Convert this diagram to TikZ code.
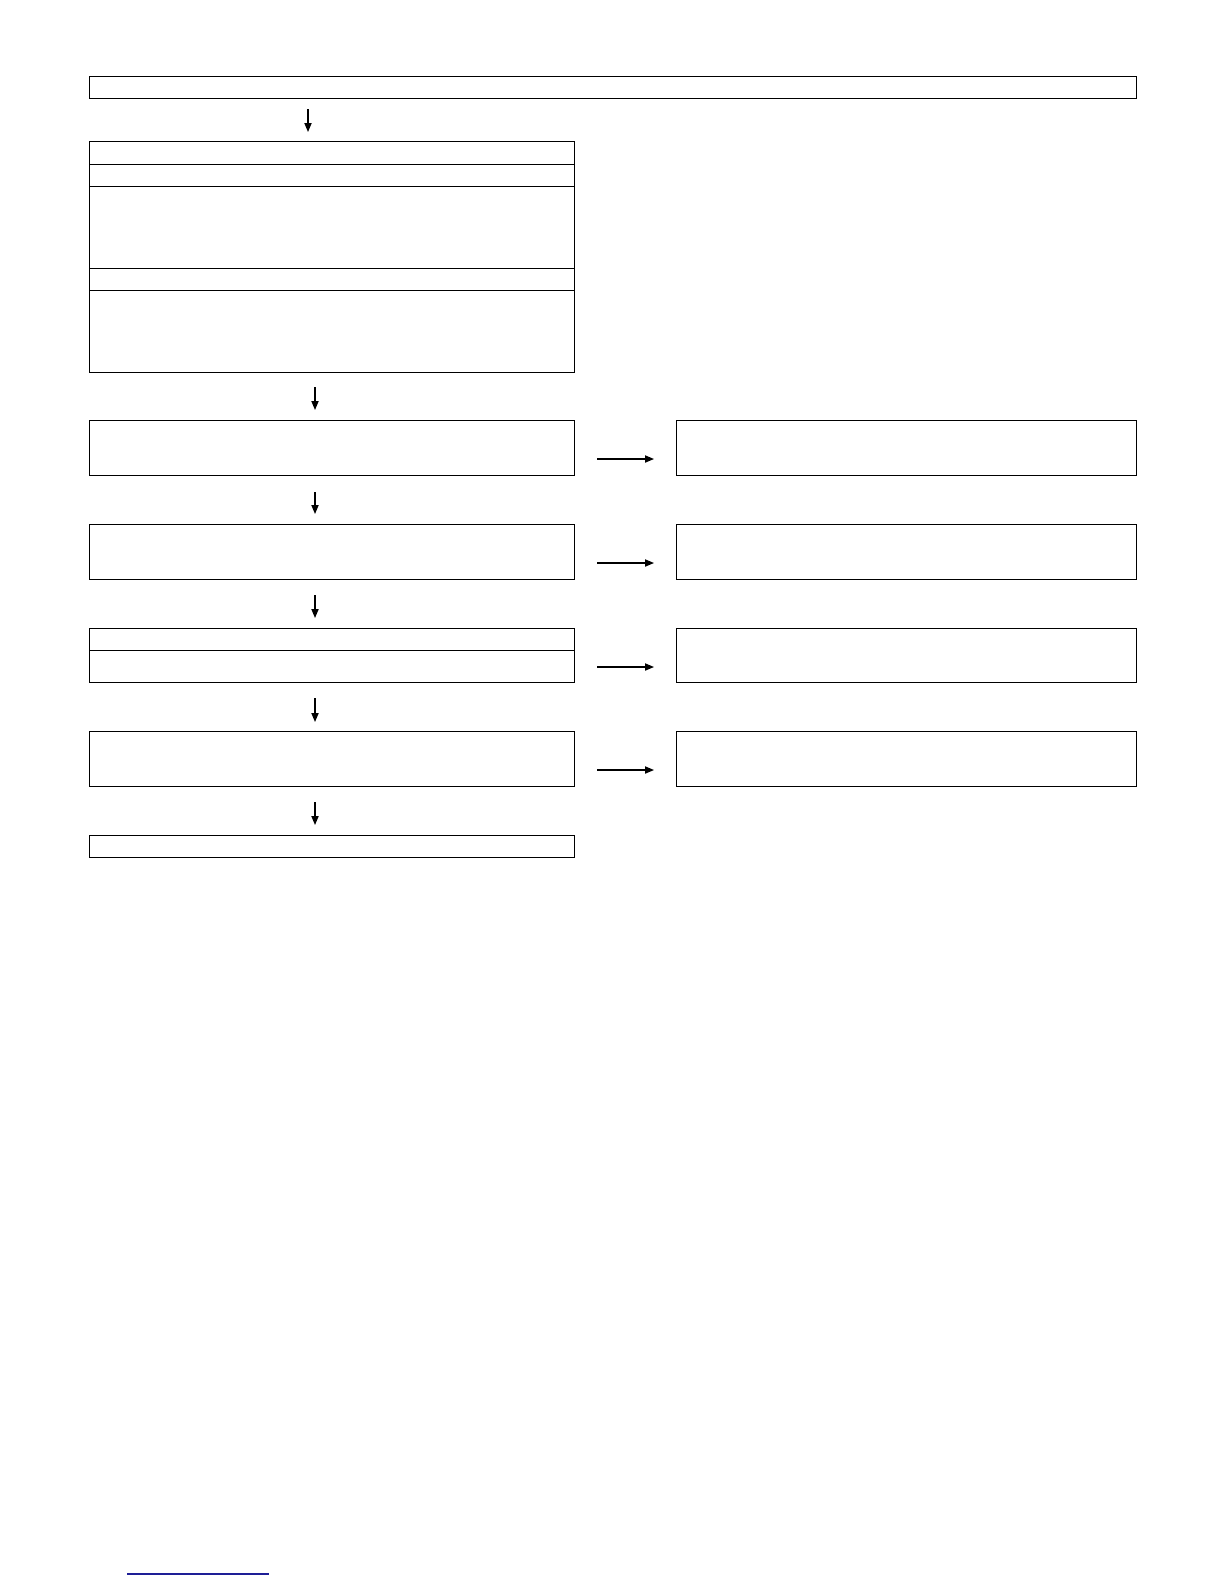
\documentclass[tikz,border=0pt]{standalone}
\usetikzlibrary{arrows.meta}
\definecolor{linkblue}{RGB}{30,30,150}
\begin{document}
\begin{tikzpicture}[x=0.5bp,y=-0.5bp,
  box/.style={draw=black,line width=0.7bp,inner sep=0pt,anchor=north west,minimum width=#1},
  lbox/.style={box=242.5bp},
  rbox/.style={box=230bp,minimum height=27.5bp},
  arr/.style={draw=black,line width=0.6bp,-{Triangle[length=4.5bp,width=3.6bp]}}]
\useasboundingbox (0,0) rectangle (1224,1584);
% top wide box
\node[box=523.5bp,minimum height=11bp] (top) at (89,76) {};
% grouped box
\node[lbox,minimum height=11.5bp] (g1) at (89,141) {};
\node[lbox,minimum height=11bp] (g2) at (89,164) {};
\node[lbox,minimum height=41bp] (g3) at (89,186) {};
\node[lbox,minimum height=11bp] (g4) at (89,268) {};
\node[lbox,minimum height=41bp] (g5) at (89,290) {};
% rows
\node[lbox,minimum height=27.5bp] (l1) at (89,420) {};
\node[rbox] (r1) at (676,420) {};
\node[lbox,minimum height=27.5bp] (l2) at (89,524) {};
\node[rbox] (r2) at (676,524) {};
\node[lbox,minimum height=11bp] (l3a) at (89,628) {};
\node[lbox,minimum height=16bp] (l3b) at (89,650) {};
\node[rbox,minimum height=27bp] (r3) at (676,628) {};
\node[lbox,minimum height=27.5bp] (l4) at (89,731) {};
\node[rbox] (r4) at (676,731) {};
\node[lbox,minimum height=11bp] (last) at (89,835) {};
% arrow end coordinates
\coordinate (v1s) at (308,109); \coordinate (v1e) at (308,132);
\coordinate (v2s) at (315,387); \coordinate (v2e) at (315,410);
\coordinate (v3s) at (315,492); \coordinate (v3e) at (315,514);
\coordinate (v4s) at (315,595); \coordinate (v4e) at (315,618);
\coordinate (v5s) at (315,698); \coordinate (v5e) at (315,722);
\coordinate (v6s) at (315,802); \coordinate (v6e) at (315,825);
\coordinate (h1s) at (597,459); \coordinate (h1e) at (654,459);
\coordinate (h2s) at (597,563); \coordinate (h2e) at (654,563);
\coordinate (h3s) at (597,667); \coordinate (h3e) at (654,667);
\coordinate (h4s) at (597,770); \coordinate (h4e) at (654,770);
\draw[arr] (v1s) -- (v1e);
\draw[arr] (v2s) -- (v2e);
\draw[arr] (v3s) -- (v3e);
\draw[arr] (v4s) -- (v4e);
\draw[arr] (v5s) -- (v5e);
\draw[arr] (v6s) -- (v6e);
\draw[arr] (h1s) -- (h1e);
\draw[arr] (h2s) -- (h2e);
\draw[arr] (h3s) -- (h3e);
\draw[arr] (h4s) -- (h4e);
% blue rule at the bottom
\draw[linkblue,line width=0.8bp] (127,1574) -- (269,1574);
\end{tikzpicture}
\end{document}
